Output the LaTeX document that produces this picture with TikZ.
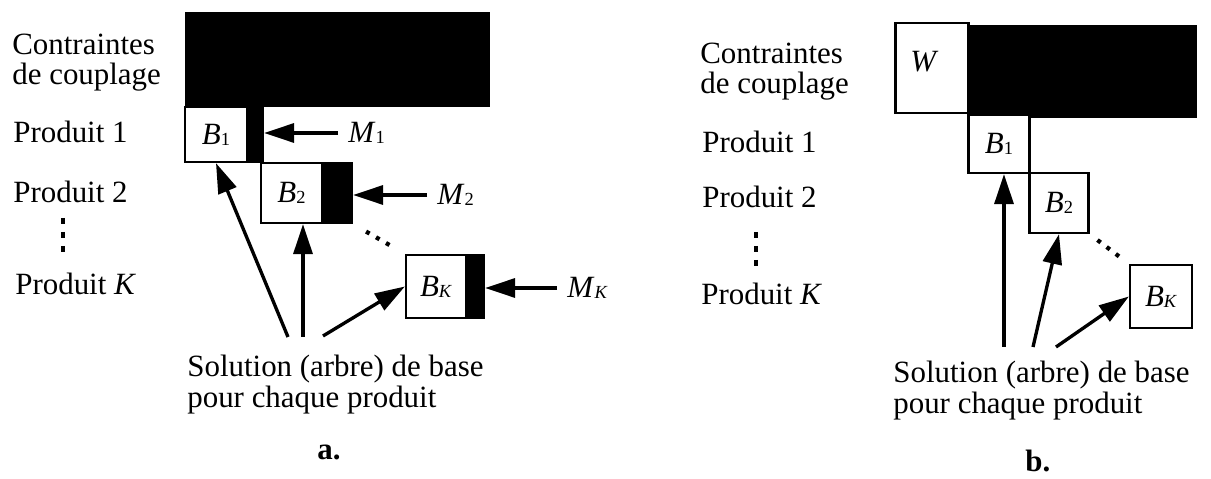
\documentclass[tikz,border=0pt]{standalone}
\usepackage{fontspec}
\setmainfont{Liberation Serif}
\usetikzlibrary{arrows.meta,calc}
\newcommand{\idx}[1]{\raisebox{-0.5pt}{\fontsize{10.5pt}{10.5pt}\selectfont #1}}
\newcommand{\pxl}[1]{#1*0.02cm}

\begin{document}
\begin{tikzpicture}[x=0.02cm,y=-0.02cm,font=\fontsize{17.6pt}{17.6pt}\selectfont,
  txt/.style={anchor=base west,inner sep=0pt},
  wbox/.style={draw,fill=white,line width=1.3pt,inner sep=0pt},
  bstrip/.style={draw,fill=black,line width=1.3pt,inner sep=0pt},
  mlbl/.style={anchor=west,inner xsep=\pxl{10},inner ysep=0pt},
  arr/.style={line width=1.9pt,-{Triangle[length=0.6cm,width=0.38cm]}},
  vdots/.style={line width=2.2pt,dash pattern=on 0.12cm off 0.16cm},
  dots/.style={line width=2.4pt,dash pattern=on 0.08cm off 0.15cm}]
\useasboundingbox (0,0) rectangle (1211,479);

\begin{scope}
\node[txt] (ca1) at (12,55) {Contraintes};
\node[txt] (ca2) at (12,85) {de couplage};
\node[txt] (pa1) at (13,143) {Produit 1};
\node[txt] (pa2) at (13,203) {Produit 2};
\node[txt] (paK) at (15,295) {Produit \textit{K}};
\draw[vdots] (63,218) -- (63,252);

\fill (185,12) rectangle (490,107);
\node[wbox,minimum width=\pxl{62},minimum height=\pxl{55}] (B1a) at (216,134.5) {\textit{B}\idx{1}};
\node[bstrip,minimum width=\pxl{16},minimum height=\pxl{55}] (s1a) at (255,134.5) {};
\node[wbox,minimum width=\pxl{61},minimum height=\pxl{60}] (B2a) at (291.5,193) {\textit{B}\idx{2}};
\node[bstrip,minimum width=\pxl{30},minimum height=\pxl{60}] (s2a) at (337,193) {};
\node[wbox,minimum width=\pxl{60},minimum height=\pxl{63}] (BKa) at (436,286.5) {\textit{B}\idx{\textit{K}}};
\node[bstrip,minimum width=\pxl{18},minimum height=\pxl{63}] (sKa) at (475,286.5) {};

\node[mlbl] (M1) at (338,133) {\textit{M}\idx{1}};
\node[mlbl] (M2) at (427,195) {\textit{M}\idx{2}};
\node[mlbl] (MK) at (557,288) {\textit{M}\idx{\textit{K}}};
\draw[arr] (M1.west) -- (M1.west -| s1a.east);
\draw[arr] (M2.west) -- (M2.west -| s2a.east);
\draw[arr] (MK.west) -- (MK.west -| sKa.east);

\node[txt] (sola) at (187,377) {Solution (arbre) de base};
\node[txt] (solb) at (187,408) {pour chaque produit};
\coordinate (ta1) at (288,337);
\coordinate (ta2) at (303,337);
\coordinate (ta3) at (323,336);
\draw[arr] (ta1) -- (B1a.south);
\draw[arr] (ta2) -- (ta2 |- B2a.south);
\draw[arr] (ta3) -- (BKa.west);
\draw[dots] ($(s2a.south east)!0.25!(BKa.north west)$) -- ($(s2a.south east)!0.75!(BKa.north west)$);

\node[txt,font=\fontsize{17.6pt}{17.6pt}\selectfont\bfseries] (capa) at (317,460) {a.};
\end{scope}

\begin{scope}
\node[txt] (cb1) at (700,64) {Contraintes};
\node[txt] (cb2) at (700,94) {de couplage};
\node[txt] (pb1) at (702,153) {Produit 1};
\node[txt] (pb2) at (702,208) {Produit 2};
\node[txt] (pbK) at (701,305) {Produit \textit{K}};
\draw[vdots] (756,232) -- (756,266);

\fill (969,25) rectangle (1197,118);
\node[wbox,minimum width=\pxl{73},minimum height=\pxl{90}] (Wb) at (932,68) {};
\node[txt] (Wl) at (910,72) {\textit{W}};
\node[wbox,minimum width=\pxl{61},minimum height=\pxl{58}] (B1b) at (999,144) {\textit{B}\idx{1}};
\node[wbox,minimum width=\pxl{59},minimum height=\pxl{60}] (B2b) at (1059,203) {\textit{B}\idx{2}};
\node[wbox,minimum width=\pxl{62},minimum height=\pxl{63}] (BKb) at (1161,296.5) {\textit{B}\idx{\textit{K}}};

\node[txt] (solc) at (893,383) {Solution (arbre) de base};
\node[txt] (sold) at (893,414) {pour chaque produit};
\coordinate (tb1) at (1004,347);
\coordinate (tb2) at (1033,347);
\coordinate (tb3) at (1056,347);
\draw[arr] (tb1) -- (tb1 |- B1b.south);
\draw[arr] (tb2) -- (B2b.south);
\draw[arr] (tb3) -- (BKb.west);
\draw[dots] ($(B2b.south east)!0.2!(BKb.north west)$) -- ($(B2b.south east)!0.8!(BKb.north west)$);

\node[txt,font=\fontsize{17.6pt}{17.6pt}\selectfont\bfseries] (capb) at (1025,472) {b.};
\end{scope}

\end{tikzpicture}
\end{document}
